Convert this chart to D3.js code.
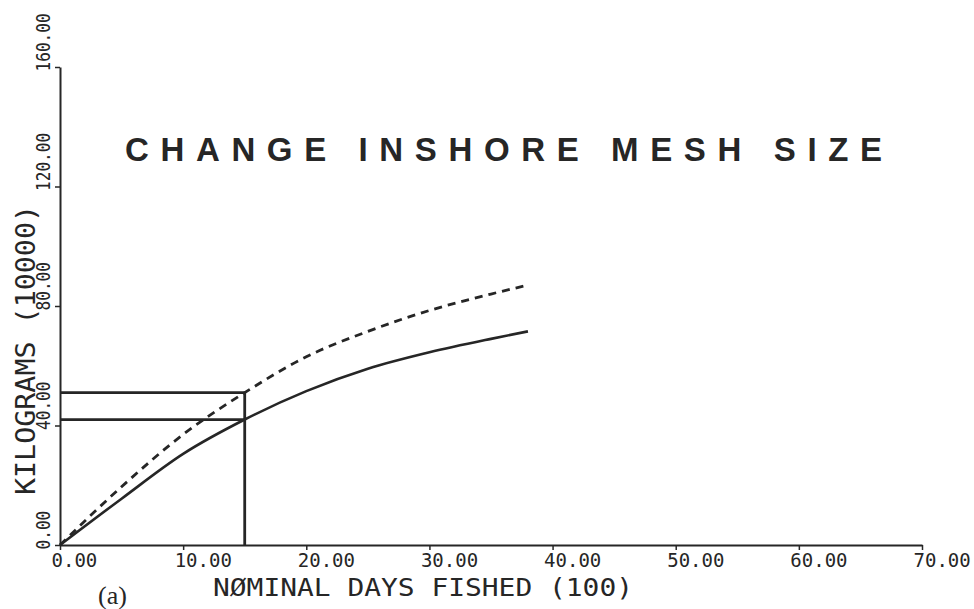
<!DOCTYPE html>
<html>
<head>
<meta charset="utf-8">
<script src="https://cdn.jsdelivr.net/npm/d3@7"></script>
<style>
	body { margin: 0; background: #fff; }
	svg { display: block; }
</style>
</head>
<body>
<svg id="svg" width="974" height="609"></svg>
<script>
// days fished (100) and catch (10000 kg)
var days = [0, 5, 10, 15, 20, 25, 30, 35, 38];
var catchDashed = [0, 19.5, 37, 51, 63, 71.5, 78.5, 84, 87];
var catchSolid = [0, 15.5, 30.5, 42, 51.5, 59, 64.5, 69, 71.5];
var xTicks = [0, 10, 20, 30, 40, 50, 60, 70];
var yTicks = [0, 40, 80, 120, 160];
// reference box at 15 days
var refDays = 15;
var refDashed = 51;
var refSolid = 42;

var svg = d3.select("svg"),
	ink = "#262626",
	mono = "'DejaVu Sans Mono', monospace";

var x = d3.scaleLinear().domain([0, 70]).range([60, 922]);
var y = d3.scaleLinear().domain([0, 160]).range([545, 67]);

// x axis
var gx = svg.append("g")
	.attr("transform", "translate(0," + y(0) + ")")
	.call(d3.axisBottom(x).tickValues(xTicks).tickSize(5).tickSizeOuter(0)
		.tickFormat(d3.format(".2f")));
gx.selectAll("text")
	.attr("x", -9).attr("y", 22).attr("dy", 0)
	.style("text-anchor", "start")
	.style("font-family", mono).style("font-size", "19px")
	.style("fill", ink);

// y axis
var gy = svg.append("g")
	.attr("transform", "translate(" + x(0) + ",0)")
	.call(d3.axisLeft(y).tickValues(yTicks).tickSize(5).tickSizeOuter(0)
		.tickFormat(d3.format(".2f")));
gy.selectAll("text")
	.attr("transform", "rotate(-90)")
	.attr("x", -4).attr("y", -10).attr("dy", 0)
	.attr("textLength", function (d) { return d3.format(".2f")(d).length * 9.7; })
	.attr("lengthAdjust", "spacingAndGlyphs")
	.style("text-anchor", "start")
	.style("font-family", mono).style("font-size", "20px")
	.style("fill", ink);

svg.selectAll(".domain").style("stroke", ink).style("stroke-width", 2);
svg.selectAll(".tick line").style("stroke", ink).style("stroke-width", 1.5);

// curves
var line = d3.line()
	.x(function (d) { return x(d[0]); })
	.y(function (d) { return y(d[1]); })
	.curve(d3.curveMonotoneX);

svg.append("path")
	.datum(d3.zip(days, catchSolid))
	.attr("d", line)
	.style("fill", "none").style("stroke", ink).style("stroke-width", 2.6);

svg.append("path")
	.datum(d3.zip(days, catchDashed))
	.attr("d", line)
	.style("fill", "none").style("stroke", ink).style("stroke-width", 2.8)
	.style("stroke-dasharray", "8,6");

// reference box
var p = d3.path();
p.moveTo(x(0), y(refDashed));
p.lineTo(x(refDays), y(refDashed));
p.lineTo(x(refDays), y(0));
p.moveTo(x(0), y(refSolid));
p.lineTo(x(refDays), y(refSolid));
svg.append("path")
	.attr("d", p.toString())
	.style("fill", "none").style("stroke", ink).style("stroke-width", 2.8);

// titles
svg.append("text")
	.attr("x", 125).attr("y", 161)
	.attr("textLength", 757).attr("lengthAdjust", "spacing")
	.style("font-family", "'Liberation Sans', Arial, sans-serif")
	.style("font-weight", "bold").style("font-size", "33px")
	.style("fill", ink)
	.text("CHANGE INSHORE MESH SIZE");

svg.append("text")
	.attr("x", 213).attr("y", 596)
	.attr("textLength", 420).attr("lengthAdjust", "spacingAndGlyphs")
	.style("font-family", mono).style("font-size", "24px")
	.style("fill", ink)
	.text("NØMINAL DAYS FISHED (100)");

svg.append("text")
	.attr("transform", "translate(35,495) rotate(-90)")
	.attr("textLength", 290).attr("lengthAdjust", "spacingAndGlyphs")
	.style("font-family", mono).style("font-size", "26px")
	.style("fill", ink)
	.text("KILOGRAMS (10000)");

svg.append("text")
	.attr("x", 98).attr("y", 604)
	.style("font-family", "'Liberation Serif', serif").style("font-size", "26px")
	.style("fill", ink)
	.text("(a)");
</script>
</body>
</html>
